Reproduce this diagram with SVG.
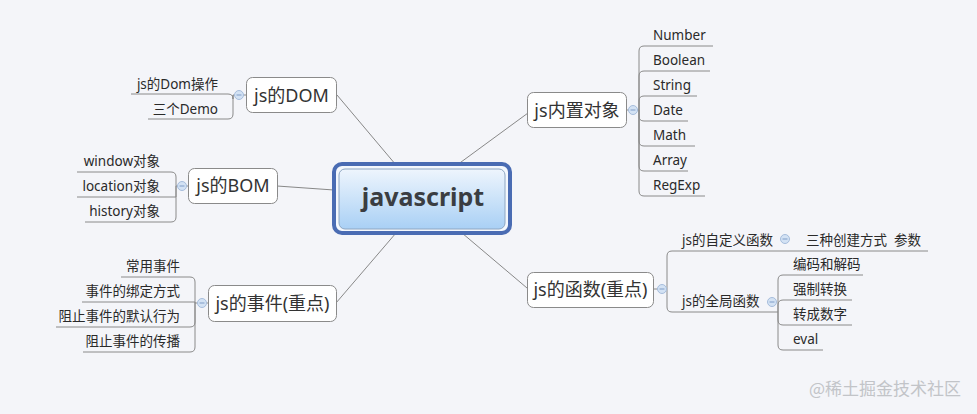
<svg xmlns="http://www.w3.org/2000/svg" width="977" height="414" viewBox="0 0 977 414">
<defs>
<linearGradient id="cg" x1="0" y1="0" x2="0" y2="1">
<stop offset="0" stop-color="#eef5fd"/>
<stop offset="1" stop-color="#a9d0f5"/>
</linearGradient>
<style>
.bg{fill:#f4f5f9}
.box{fill:#ffffff;stroke:#8a8a8a;stroke-width:1}
.main{font-family:"Noto Sans","Noto Sans CJK SC",sans-serif;font-size:18px;fill:#333;text-anchor:middle}
.sub{font-family:"Noto Sans","Noto Sans CJK SC",sans-serif;font-size:13.5px;fill:#2a2a2a}
.end{text-anchor:end}
.ln{fill:none;stroke:#8a8a8a;stroke-width:1}
.cn{fill:none;stroke:#888;stroke-width:1}
.tg circle{fill:#d3e2f4;stroke:#a6bddc;stroke-width:1}
.tg path{stroke:#7f9cc7;stroke-width:1}
</style>
</defs>
<rect class="bg" x="0" y="0" width="977" height="414"/>

<g id="connectors">
<path class="cn" d="M337,95 L396,165"/>
<path class="cn" d="M528,113 L457,165"/>
<path class="cn" d="M277,186 L334,190"/>
<path class="cn" d="M336,303 L396,233"/>
<path class="cn" d="M527,288 L462,233"/>
</g>

<g id="central">
<rect x="334" y="164" width="176" height="69" rx="8" fill="#f4f8fd" stroke="#4a6cb3" stroke-width="4"/>
<rect x="339" y="169" width="166" height="60" rx="6" fill="url(#cg)" stroke="#8ea6c2" stroke-width="1"/>
<text x="423" y="206" font-family="Noto Sans, sans-serif" font-weight="bold" font-size="25" fill="#3a3d42" text-anchor="middle">javascript</text>
</g>

<g id="node-dom">
<path class="ln" d="M233,95 H246"/>
<path class="ln" d="M233,95 V99 Q233,94 228,94 H131"/>
<path class="ln" d="M233,95 V114 Q233,119 228,119 H148"/>
<rect class="box" x="246.5" y="77.5" width="90" height="35" rx="6"/>
<text class="main" x="291.5" y="102">js的DOM</text>
<text class="sub end" x="218" y="89">js的Dom操作</text>
<text class="sub end" x="218" y="114">三个Demo</text>
<g class="tg"><circle cx="239" cy="95" r="4.5"/><path d="M236.5,95 H241.5"/></g>
</g>

<g id="node-bom">
<path class="ln" d="M176,186 H188"/>
<path class="ln" d="M176,186 V177 Q176,172 171,172 H77"/>
<path class="ln" d="M176,186 V197 H77"/>
<path class="ln" d="M176,186 V217 Q176,222 171,222 H85"/>
<rect class="box" x="188.5" y="168.5" width="89" height="35" rx="6"/>
<text class="main" x="233" y="192">js的BOM</text>
<text class="sub end" x="160" y="166">window对象</text>
<text class="sub end" x="160" y="191">location对象</text>
<text class="sub end" x="160" y="216">history对象</text>
<g class="tg"><circle cx="182" cy="186" r="4.5"/><path d="M179.5,186 H184.5"/></g>
</g>

<g id="node-events">
<path class="ln" d="M195,303 H208"/>
<path class="ln" d="M195,303 V282 Q195,277 190,277 H121"/>
<path class="ln" d="M195,303 V302 H82"/>
<path class="ln" d="M195,303 V322 Q195,327 190,327 H56"/>
<path class="ln" d="M195,303 V347 Q195,352 190,352 H83"/>
<rect class="box" x="208.5" y="285.5" width="128" height="36" rx="6"/>
<text class="main" x="272.5" y="310">js的事件(重点)</text>
<text class="sub end" x="180" y="271">常用事件</text>
<text class="sub end" x="180" y="296">事件的绑定方式</text>
<text class="sub end" x="180" y="321">阻止事件的默认行为</text>
<text class="sub end" x="180" y="346">阻止事件的传播</text>
<g class="tg"><circle cx="202" cy="303" r="4.5"/><path d="M199.5,303 H204.5"/></g>
</g>

<g id="node-builtin">
<path class="ln" d="M627,110 H639"/>
<path class="ln" d="M639,110 V51 Q639,46 644,46 H713"/>
<path class="ln" d="M639,110 V76 Q639,71 644,71 H710"/>
<path class="ln" d="M639,110 V101 Q639,96 644,96 H697"/>
<path class="ln" d="M639,110 V116 Q639,121 644,121 H688"/>
<path class="ln" d="M639,110 V141 Q639,146 644,146 H695"/>
<path class="ln" d="M639,110 V166 Q639,171 644,171 H688"/>
<path class="ln" d="M639,110 V191 Q639,196 644,196 H705"/>
<rect class="box" x="527.5" y="92.5" width="99" height="35" rx="6"/>
<text class="main" x="577" y="117">js内置对象</text>
<text class="sub" x="653" y="40">Number</text>
<text class="sub" x="653" y="65">Boolean</text>
<text class="sub" x="653" y="90">String</text>
<text class="sub" x="653" y="115">Date</text>
<text class="sub" x="653" y="140">Math</text>
<text class="sub" x="653" y="165">Array</text>
<text class="sub" x="653" y="190">RegExp</text>
<g class="tg"><circle cx="633" cy="110" r="4.5"/><path d="M630.5,110 H635.5"/></g>
</g>

<g id="node-functions">
<path class="ln" d="M654,289 H667"/>
<path class="ln" d="M667,289 V256 Q667,251 672,251 H928"/>
<path class="ln" d="M667,289 V307 Q667,312 672,312 H778"/>
<path class="ln" d="M778,312 V280 Q778,275 783,275 H863"/>
<path class="ln" d="M778,312 V305 Q778,300 783,300 H852"/>
<path class="ln" d="M778,312 V320 Q778,325 783,325 H852"/>
<path class="ln" d="M778,312 V345 Q778,350 783,350 H823"/>
<rect class="box" x="527.5" y="272.5" width="126" height="35" rx="6"/>
<text class="main" x="590.5" y="296">js的函数(重点)</text>
<text class="sub" x="682" y="245">js的自定义函数</text>
<text class="sub" x="806" y="245">三种创建方式</text>
<text class="sub" x="894" y="245">参数</text>
<text class="sub" x="682" y="306">js的全局函数</text>
<text class="sub" x="793" y="269">编码和解码</text>
<text class="sub" x="793" y="294">强制转换</text>
<text class="sub" x="793" y="319">转成数字</text>
<text class="sub" x="793" y="344">eval</text>
<g class="tg"><circle cx="662" cy="289" r="4.5"/><path d="M659.5,289 H664.5"/></g>
<g class="tg"><circle cx="785" cy="239" r="4.5"/><path d="M782.5,239 H787.5"/></g>
<g class="tg"><circle cx="772" cy="302" r="4.5"/><path d="M769.5,302 H774.5"/></g>
</g>

<text x="961" y="395" font-family="Noto Sans CJK SC, sans-serif" font-size="17" fill="#c2c4c8" text-anchor="end">@稀土掘金技术社区</text>
</svg>
